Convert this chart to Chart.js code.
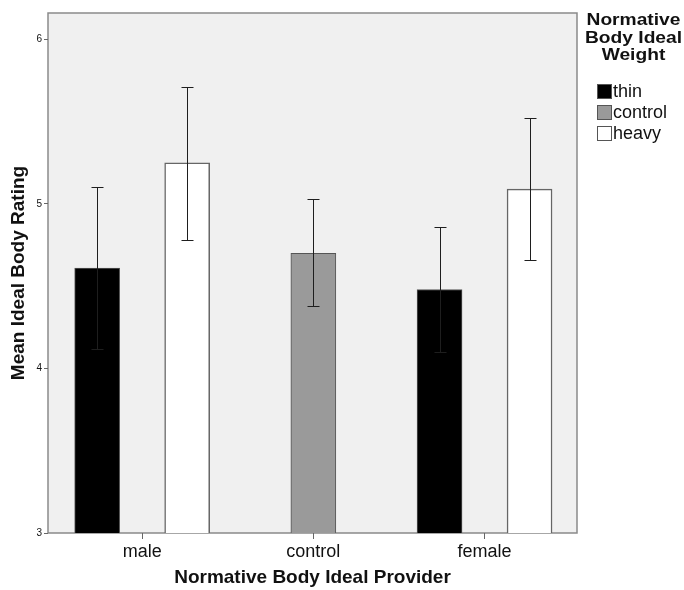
<!DOCTYPE html>
<html>
<head>
<meta charset="utf-8">
<script src="https://cdn.jsdelivr.net/npm/chart.js@4"></script>
<style>
  html, body { margin: 0; padding: 0; background: #fff; }
  #wrap { position: relative; width: 684px; height: 590px; }
  #legend { position: absolute; left: 583px; top: 11px; width: 101px; font-family: "Liberation Sans", Arial, sans-serif; color: #111; }
  #legend .title { font-weight: bold; font-size: 17px; line-height: 17.5px; text-align: center; white-space: nowrap; transform: scaleX(1.13); transform-origin: 50% 50%; }
  #legend .item { display: flex; align-items: center; height: 21px; margin-left: 14px; font-size: 18px; white-space: nowrap; }
  #legend .box { width: 15px; height: 15px; border: 1px solid #555; margin-right: 1px; box-sizing: border-box; flex: none; }
</style>
</head>
<body>
<div id="wrap">
  <canvas id="c" width="684" height="590"></canvas>
  <div id="legend"></div>
</div>
<script>
const categories = ["male", "control", "female"];
const seriesNames = ["thin", "control", "heavy"];
const legendTitle = ["Normative", "Body Ideal", "Weight"];
const yTicks = [3, 4, 5, 6];

// positions on the category axis (1 = male, 2 = control, 3 = female)
const thinX = [1, 3];
const thinMean = [4.61, 4.48];
const thinLow = [4.12, 4.10];
const thinHigh = [5.10, 4.86];

const controlX = [2];
const controlMean = [4.70];
const controlLow = [4.38];
const controlHigh = [5.03];

const heavyX = [1, 3];
const heavyMean = [5.25, 5.09];
const heavyLow = [4.78, 4.66];
const heavyHigh = [5.71, 5.52];

const seriesColors = ["#000000", "#9a9a9a", "#ffffff"];

function pts(xs, ys) { return xs.map((x, i) => ({ x: x, y: ys[i] })); }

const errors = [
  { low: thinLow, high: thinHigh },
  { low: controlLow, high: controlHigh },
  { low: heavyLow, high: heavyHigh }
];

const FONT = "'Liberation Sans', Arial, sans-serif";

const bgPlugin = {
  id: 'bg',
  beforeDraw(chart) {
    const { ctx, chartArea: a } = chart;
    ctx.save();
    ctx.fillStyle = '#f0f0f0';
    ctx.fillRect(a.left, a.top, a.right - a.left, a.bottom - a.top);
    ctx.strokeStyle = '#8a8a8a';
    ctx.lineWidth = 1.5;
    ctx.strokeRect(a.left, a.top, a.right - a.left, a.bottom - a.top);
    ctx.restore();
  }
};

const errPlugin = {
  id: 'errbars',
  afterDatasetsDraw(chart) {
    const { ctx } = chart;
    const y = chart.scales.y;
    ctx.save();
    ctx.strokeStyle = '#1e1e1e';
    ctx.lineWidth = 1;
    chart.data.datasets.forEach((ds, di) => {
      const meta = chart.getDatasetMeta(di);
      meta.data.forEach((bar, i) => {
        const x = Math.round(bar.x) + 0.5;
        const yl = Math.round(y.getPixelForValue(errors[di].low[i])) + 0.5;
        const yh = Math.round(y.getPixelForValue(errors[di].high[i])) + 0.5;
        const cap = 6;
        ctx.beginPath();
        ctx.moveTo(x, yl); ctx.lineTo(x, yh);
        ctx.moveTo(x - cap, yl); ctx.lineTo(x + cap, yl);
        ctx.moveTo(x - cap, yh); ctx.lineTo(x + cap, yh);
        ctx.stroke();
      });
    });
    ctx.restore();
  }
};

const chart = new Chart(document.getElementById('c'), {
  type: 'bar',
  data: {
    datasets: [
      { label: seriesNames[0], data: pts(thinX, thinMean), backgroundColor: seriesColors[0], borderColor: '#555', borderWidth: 1 },
      { label: seriesNames[1], data: pts(controlX, controlMean), backgroundColor: seriesColors[1], borderColor: '#555', borderWidth: 1 },
      { label: seriesNames[2], data: pts(heavyX, heavyMean), backgroundColor: seriesColors[2], borderColor: '#666', borderWidth: 1.5 }
    ]
  },
  plugins: [bgPlugin, errPlugin],
  options: {
    responsive: false,
    animation: false,
    events: [],
    barThickness: 45,
    layout: { padding: { left: 0, right: 107, top: 13, bottom: 0 } },
    plugins: { legend: { display: false }, tooltip: { enabled: false } },
    scales: {
      x: {
        type: 'linear',
        min: 0.45,
        max: 3.54,
        offset: false,
        afterBuildTicks(s) { s.ticks = categories.map((c, i) => ({ value: i + 1 })); },
        afterFit(s) { s.height = 57; },
        ticks: {
          autoSkip: false,
          maxRotation: 0,
          padding: 2,
          color: '#111',
          font: { family: FONT, size: 18 },
          callback: (v) => categories[v - 1]
        },
        grid: { offset: false, drawOnChartArea: false, tickLength: 6, color: '#666' },
        border: { display: false },
        title: { display: true, text: 'Normative Body Ideal Provider', color: '#111', font: { family: FONT, size: 19, weight: 'bold' }, padding: { top: 0, bottom: 1 } }
      },
      y: {
        min: 3,
        max: 6.16,
        afterBuildTicks(s) { s.ticks = yTicks.map(v => ({ value: v })); },
        afterFit(s) { s.width = 48; },
        ticks: { color: '#111', padding: 2, font: { family: FONT, size: 10 } },
        grid: { drawOnChartArea: false, tickLength: 4, color: '#666' },
        border: { display: false },
        title: { display: true, text: 'Mean Ideal Body Rating', color: '#111', font: { family: FONT, size: 19, weight: 'bold' }, padding: { top: 7, bottom: 0 } }
      }
    }
  }
});

// legend built from the dataset names and colors
const leg = document.getElementById('legend');
const t = document.createElement('div');
t.className = 'title';
t.innerHTML = legendTitle.join('<br>');
leg.appendChild(t);
const sp = document.createElement('div'); sp.style.height = '17px'; leg.appendChild(sp);
seriesNames.forEach((n, i) => {
  const it = document.createElement('div');
  it.className = 'item';
  const b = document.createElement('span');
  b.className = 'box';
  b.style.background = seriesColors[i];
  const tx = document.createElement('span');
  tx.textContent = n;
  it.appendChild(b); it.appendChild(tx);
  leg.appendChild(it);
});
</script>
</body>
</html>
